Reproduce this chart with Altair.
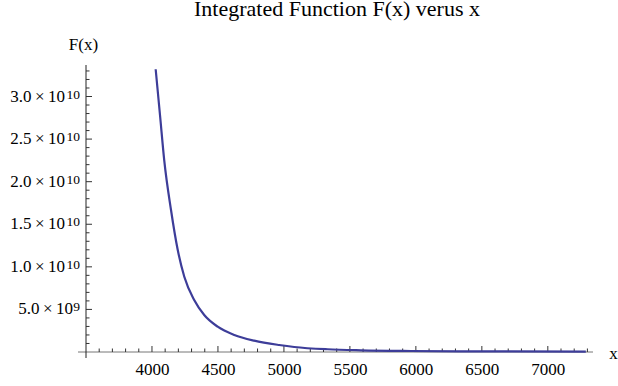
import altair as alt
import pandas as pd

# Curve values
xs = [4028, 4061, 4093, 4144, 4195, 4245, 4320, 4396, 4498, 4624,
      4775, 4964, 5078, 5331, 5583, 5962, 6341, 7288]
Fx = [3.32e10, 2.78e10, 2.25e10, 1.67e10, 1.20e10, 8.84e9, 6.10e9, 4.34e9,
      2.97e9, 2.0e9, 1.33e9, 8.2e8, 5.9e8, 3.2e8, 2.0e8, 1.2e8, 8e7, 5e7]

x_major = [4000, 4500, 5000, 5500, 6000, 6500, 7000]
x_minor = [v for v in range(3600, 7400, 100) if v % 500 != 0]

# y tick labels: mantissa and exponent (exponent drawn as superscript)
y_major_e9 = [5e9]
mant_e9 = ["5.0\u2009×\u200910"]
y_major_e10 = [1e10, 1.5e10, 2e10, 2.5e10, 3e10]
mant_e10 = ["1.0\u2009×\u200910", "1.5\u2009×\u200910", "2.0\u2009×\u200910",
            "2.5\u2009×\u200910", "3.0\u2009×\u200910"]
y_major = y_major_e9 + y_major_e10
y_exp = ["9", "10", "10", "10", "10", "10"]
y_minor = [v * 1e9 for v in range(1, 34) if v % 5 != 0]

W, H = 508, 287
FONT = "Liberation Serif"
BLUE = "#3d3d99"
TICK = "#333333"
FS = 17

xscale = alt.Scale(domain=[3500, 7350], nice=False, zero=False)
yscale = alt.Scale(domain=[0, 3.37e10], nice=False, zero=False)

curve = pd.DataFrame({"x": xs, "y": Fx})

line = alt.Chart(curve).mark_line(color=BLUE, strokeWidth=2.2, interpolate="monotone").encode(
    x=alt.X("x:Q", scale=xscale, axis=alt.Axis(
        values=x_major, format="d", ticks=False, domain=False, grid=False,
        labelFont=FONT, labelFontSize=FS, labelColor="black", labelPadding=9,
        title="x", titleFont=FONT, titleFontSize=FS, titleFontWeight="normal",
        titleColor="black", titleX=527, titleY=6, titleAlign="center",
        titleBaseline="alphabetic", titleAngle=0)),
    y=alt.Y("y:Q", scale=yscale, axis=alt.Axis(
        values=y_major, labels=False, ticks=False, domain=False, grid=False,
        title="F(x)", titleFont=FONT, titleFontSize=FS, titleFontWeight="normal",
        titleColor="black", titleX=-3, titleY=-16, titleAlign="center",
        titleBaseline="alphabetic", titleAngle=0)),
)

mant10 = alt.Chart(pd.DataFrame({"y": y_major_e10, "t": mant_e10})).mark_text(
    font=FONT, fontSize=FS, align="right", baseline="middle", color="black").encode(
    y=alt.Y("y:Q", scale=yscale), x=alt.value(-21), text="t:N")
mant9 = alt.Chart(pd.DataFrame({"y": y_major_e9, "t": mant_e9})).mark_text(
    font=FONT, fontSize=FS, align="right", baseline="middle", color="black").encode(
    y=alt.Y("y:Q", scale=yscale), x=alt.value(-13), text="t:N")
expo = alt.Chart(pd.DataFrame({"y": y_major, "t": y_exp})).mark_text(
    font=FONT, fontSize=13.5, align="right", baseline="alphabetic", color="black", dy=2).encode(
    y=alt.Y("y:Q", scale=yscale), x=alt.value(-6), text="t:N")

xmaj = alt.Chart(pd.DataFrame({"x": x_major})).mark_rule(color=TICK, strokeWidth=1).encode(
    x=alt.X("x:Q", scale=xscale), y=alt.value(H), y2=alt.value(H - 6))
xmin = alt.Chart(pd.DataFrame({"x": x_minor})).mark_rule(color=TICK, strokeWidth=1).encode(
    x=alt.X("x:Q", scale=xscale), y=alt.value(H), y2=alt.value(H - 3.5))
ymaj = alt.Chart(pd.DataFrame({"y": y_major})).mark_rule(color=TICK, strokeWidth=1).encode(
    y=alt.Y("y:Q", scale=yscale), x=alt.value(0), x2=alt.value(6))
ymin = alt.Chart(pd.DataFrame({"y": y_minor})).mark_rule(color=TICK, strokeWidth=1).encode(
    y=alt.Y("y:Q", scale=yscale), x=alt.value(0), x2=alt.value(3.5))

xaxis = alt.Chart(pd.DataFrame({"a": [0]})).mark_rule(color="#777777", strokeWidth=1).encode(
    x=alt.value(-8), x2=alt.value(W - 1), y=alt.value(H))
yaxis = alt.Chart(pd.DataFrame({"a": [0]})).mark_rule(color="#222222", strokeWidth=1).encode(
    x=alt.value(0), y=alt.value(0), y2=alt.value(H + 6))

chart = alt.layer(xaxis, yaxis, xmin, xmaj, ymin, ymaj, mant10, mant9, expo, line).properties(
    width=W, height=H,
    title=alt.TitleParams("Integrated Function F(x) verus x", font=FONT, fontSize=22,
                          fontWeight="normal", color="black", anchor="middle",
                          frame="group", baseline="alphabetic", offset=6, dy=9, dx=-3),
    autosize=alt.AutoSizeParams(type="none"),
    padding={"left": 86, "top": 65, "right": 24, "bottom": 34},
    background="white",
).configure_view(stroke=None)

chart.save("out.html", embed_options={"renderer": "svg", "actions": False})
